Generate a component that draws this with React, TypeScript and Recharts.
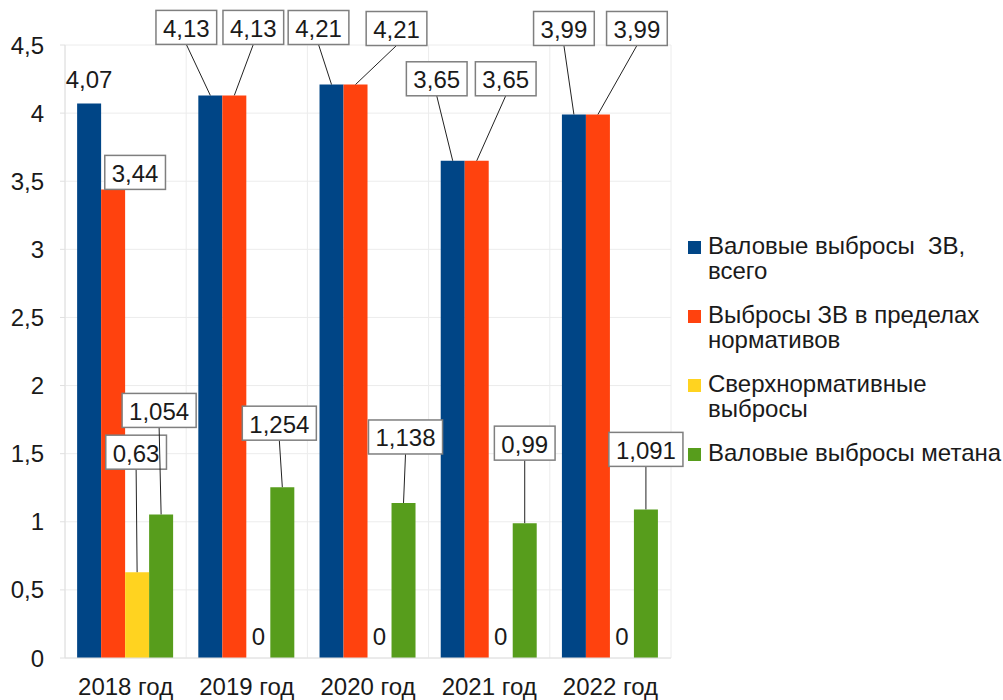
import React from "react";
import { BarChart, Bar, XAxis, YAxis, CartesianGrid, LabelList } from "recharts";

const years = ["2018 год", "2019 год", "2020 год", "2021 год", "2022 год"];
const grossTotal = [4.07, 4.13, 4.21, 3.65, 3.99];
const withinLimits = [3.44, 4.13, 4.21, 3.65, 3.99];
const aboveLimits = [0.63, 0, 0, 0, 0];
const methane = [1.054, 1.254, 1.138, 0.99, 1.091];
const yTicks = [0, 0.5, 1, 1.5, 2, 2.5, 3, 3.5, 4, 4.5];

const seriesNames = [
  ["Валовые выбросы  ЗВ,", "всего"],
  ["Выбросы ЗВ в пределах", "нормативов"],
  ["Сверхнормативные", "выбросы"],
  ["Валовые выбросы метана"],
];
const colors = ["#004586", "#ff420e", "#ffd320", "#579d1c"];

// callout placement relative to the top centre of each bar
type Callout = { dx: number; dy: number; box: boolean };
const totalCallouts: Callout[] = [
  { dx: 0, dy: -24, box: false },
  { dx: -24, dy: -68, box: true },
  { dx: -13, dy: -57, box: true },
  { dx: -16, dy: -82, box: true },
  { dx: -10, dy: -86, box: true },
];
const withinCallouts: Callout[] = [
  { dx: 22, dy: -17, box: true },
  { dx: 19, dy: -68, box: true },
  { dx: 41, dy: -56, box: true },
  { dx: 29, dy: -82, box: true },
  { dx: 39, dy: -86, box: true },
];
const aboveCallouts: Callout[] = [
  { dx: -1, dy: -120, box: true },
  { dx: 0, dy: -22, box: false },
  { dx: 0, dy: -22, box: false },
  { dx: 0, dy: -22, box: false },
  { dx: 0, dy: -22, box: false },
];
const methaneCallouts: Callout[] = [
  { dx: -2, dy: -104, box: true },
  { dx: -3, dy: -64, box: true },
  { dx: 2, dy: -66, box: true },
  { dx: 0, dy: -80, box: true },
  { dx: 0, dy: -60, box: true },
];

const data = years.map((year, i) => ({
  year,
  total: grossTotal[i],
  within: withinLimits[i],
  above: aboveLimits[i],
  methane: methane[i],
}));

const FONT = "'Liberation Sans', Arial, sans-serif";
const FS = 24;
const fmt = (v: number) => String(v).replace(".", ",");

const textWidth = (s: string, size: number) =>
  s.split("").reduce((w, ch) => w + (ch === "," ? 0.278 : 0.556) * size, 0);

const drawCallout = (cx: number, top: number, value: number, c: Callout) => {
  const text = fmt(value);
  const lx = cx + c.dx;
  const ly = top + c.dy;
  if (!c.box) {
    return (
      <text x={lx} y={ly} textAnchor="middle" dominantBaseline="central" fontSize={FS} fill="#1a1a1a" fontFamily={FONT}>
        {text}
      </text>
    );
  }
  const w = textWidth(text, FS) + 14;
  const h = 34;
  const bottom = ly + h / 2;
  return (
    <g>
      {top - bottom > 3 && <line x1={lx} y1={bottom} x2={cx} y2={top} stroke="#222" strokeWidth={1} />}
      <rect x={lx - w / 2} y={ly - h / 2} width={w} height={h} fill="#fff" stroke="#7f7f7f" strokeWidth={1.5} />
      <text x={lx} y={ly + 1} textAnchor="middle" dominantBaseline="central" fontSize={FS} fill="#1a1a1a" fontFamily={FONT}>
        {text}
      </text>
    </g>
  );
};

const makeLabel = (callouts: Callout[]) => (props: any) => {
  const { x, y, width, value, index } = props;
  const c = callouts[index];
  if (!c) return null;
  return drawCallout(Number(x) + Number(width) / 2, Number(y), Number(value), c);
};

// zero-height bars get no label from recharts, so the yellow zeros are placed
// from the neighbouring methane bar (same width, directly to its left)
const zeroAboveLabel = (props: any) => {
  const { x, y, width, height, index } = props;
  const v = aboveLimits[index];
  if (v !== 0) return null;
  const cx = Number(x) - Number(width) / 2;
  const base = Number(y) + Number(height);
  return drawCallout(cx, base, v, aboveCallouts[index]);
};

export default function App() {
  return (
    <div style={{ position: "absolute", left: 0, top: 0, width: 1003, height: 700, background: "#fff", fontFamily: FONT }}>
      <BarChart
        width={1003}
        height={700}
        data={data}
        margin={{ top: 45, right: 332, left: 0, bottom: 0 }}
        barCategoryGap="10%"
        barGap={0}
      >
        <CartesianGrid
          stroke="#ececec"
          verticalCoordinatesGenerator={({ offset }: any) =>
            years.map((_, i) => offset.left + (offset.width / years.length) * i).concat(offset.left + offset.width)
          }
        />
        <XAxis
          dataKey="year"
          height={42}
          axisLine={{ stroke: "#e0e0e0" }}
          tickLine={false}
          interval={0}
          tick={{ fill: "#1a1a1a", fontSize: FS, fontFamily: FONT, dy: 12 }}
        />
        <YAxis
          width={65}
          domain={[0, 4.5]}
          ticks={yTicks}
          interval={0}
          axisLine={{ stroke: "#e0e0e0" }}
          tickLine={{ stroke: "#e0e0e0" }}
          tickSize={5}
          tickMargin={16}
          tickFormatter={fmt}
          tick={{ fill: "#1a1a1a", fontSize: FS, fontFamily: FONT }}
        />
        <Bar dataKey="total" fill={colors[0]} isAnimationActive={false}>
          <LabelList dataKey="total" content={makeLabel(totalCallouts)} />
        </Bar>
        <Bar dataKey="within" fill={colors[1]} isAnimationActive={false}>
          <LabelList dataKey="within" content={makeLabel(withinCallouts)} />
        </Bar>
        <Bar dataKey="above" fill={colors[2]} isAnimationActive={false}>
          <LabelList dataKey="above" content={makeLabel(aboveCallouts)} />
        </Bar>
        <Bar dataKey="methane" fill={colors[3]} isAnimationActive={false}>
          <LabelList dataKey="methane" content={makeLabel(methaneCallouts)} />
          <LabelList dataKey="methane" content={zeroAboveLabel} />
        </Bar>
      </BarChart>
      <div style={{ position: "absolute", left: 688, top: 233, fontSize: FS, lineHeight: "25px", color: "#1a1a1a" }}>
        {seriesNames.map((lines, i) => (
          <div key={i} style={{ position: "relative", paddingLeft: 20, marginBottom: 19, whiteSpace: "pre" }}>
            <span style={{ position: "absolute", left: 0, top: 8, width: 13, height: 13, background: colors[i] }} />
            {lines.map((l, j) => (
              <div key={j}>{l}</div>
            ))}
          </div>
        ))}
      </div>
    </div>
  );
}
